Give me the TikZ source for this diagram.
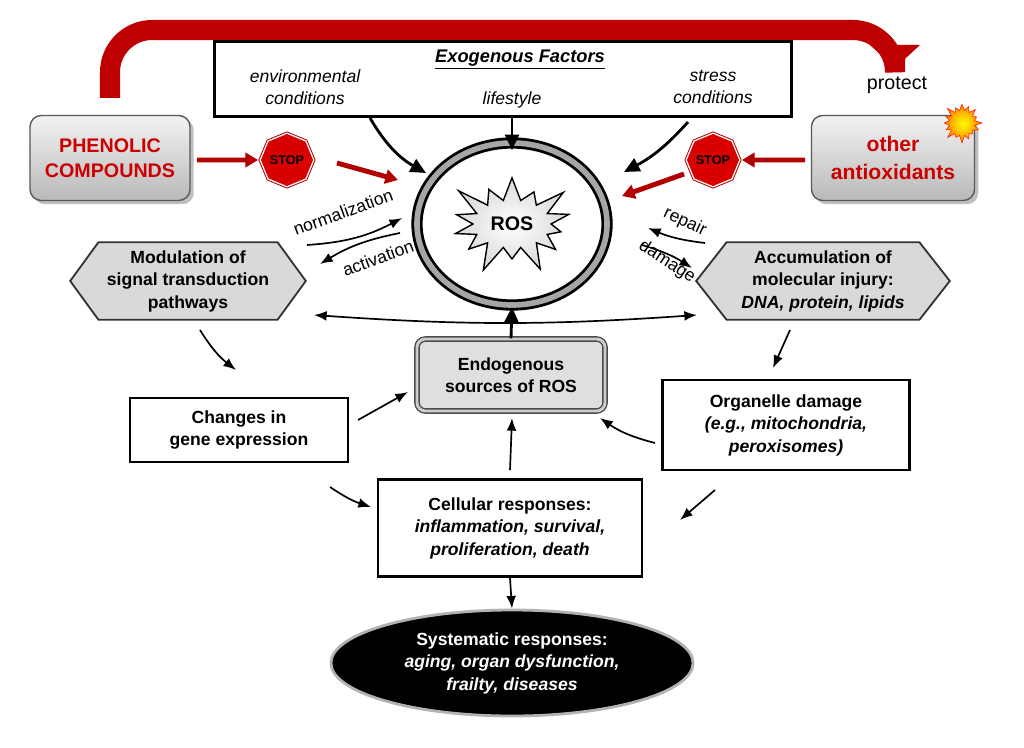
\documentclass[tikz,border=0pt]{standalone}
\usepackage{fontspec}
\setmainfont{Liberation Sans}
\usetikzlibrary{shapes.geometric,shapes.symbols,arrows.meta,shadows,calc}
\begin{document}
\begin{tikzpicture}[x=0.025cm,y=-0.025cm,
  txt/.style={font=\fontsize{12.5}{16}\selectfont\bfseries,align=center},
  box/.style={draw,line width=1.6pt,fill=white,txt,inner sep=0pt},
  arr/.style={-{Latex[length=9pt,width=7pt]},line width=1.2pt},
  big/.style={-{Triangle[length=11pt,width=10pt]},line width=2pt},
  red/.style={-{Triangle[length=9pt,width=10pt]},line width=3.5pt,draw=red!70!black},
  gbox/.style={rounded corners=8pt,draw=gray!70!black,line width=1pt,top color=gray!10,bottom color=gray!55,drop shadow},
  stop/.style={regular polygon,regular polygon sides=8,fill=red!85!black,draw=white,line width=1pt,double=red!70!black,font=\fontsize{9}{9}\selectfont\bfseries,text=black,inner sep=0pt,shape border rotate=22.5}
]
\useasboundingbox (0,0) rectangle (1024,748);
% top red arrow
\draw[draw=red!75!black,line width=0.5cm,rounded corners=30pt] (110,98) -- (110,30) -- (895,30) -- (895,48);
\fill[red!75!black] (870,45) -- (920,45) -- (895,68) -- cycle;
\node[font=\fontsize{14}{14}\selectfont] (prot) at (897,85) {protect};
% Exogenous
\node[box,minimum width=14.425cm,minimum height=1.875cm,anchor=north west,line width=2pt] (exo) at (213,40) {};
\node[font=\fontsize{13}{13}\selectfont\bfseries\itshape] (exot) at (520,60) {\underline{Exogenous Factors}};
\node[font=\fontsize{12.5}{16}\selectfont\itshape,align=center] (env) at (305,87) {environmental\\conditions};
\node[font=\fontsize{12.5}{16}\selectfont\itshape] (life) at (512,100) {lifestyle};
\node[font=\fontsize{12.5}{16}\selectfont\itshape,align=center] (stress) at (713,87) {stress\\conditions};
% phenolic / antioxidants
\node[gbox,minimum width=4cm,minimum height=2.125cm,font=\fontsize{14}{18}\selectfont\bfseries,text=red!80!black,align=center] (phen) at (110,158) {PHENOLIC\\COMPOUNDS};
\node[gbox,minimum width=4.075cm,minimum height=2.125cm,font=\fontsize{15}{20}\selectfont\bfseries,text=red!80!black,align=center] (anti) at (893,158) {other\\antioxidants};
\node[starburst,starburst points=16,starburst point height=6pt,draw=red!80!orange,inner sep=5pt,shading=radial,inner color=yellow,outer color=orange,minimum size=30pt] (sun) at (962,123) {};
\node[stop,minimum size=40pt] (stopL) at (287,160) {STOP};
\node[stop,minimum size=40pt] (stopR) at (713,160) {STOP};
% ROS
\node[ellipse,draw=black,line width=2pt,double=gray!70,double distance=4pt,fill=white,minimum width=4.75cm,minimum height=4.05cm] (ros) at (512,224) {};
\node[starburst,starburst points=14,starburst point height=22pt,draw,line width=1pt,inner color=white,outer color=gray!30,shading=radial,minimum width=3.5cm,minimum height=2.75cm,font=\fontsize{14}{14}\selectfont\bfseries] (rost) at (512,224) {ROS};
% hexagons
\node[txt,minimum width=5.875cm,minimum height=1.925cm] (mod) at (188,281) {};
\node[txt,minimum width=6.325cm,minimum height=1.925cm] (acc) at (823,281) {};
\foreach \n in {mod,acc}{
 \fill[gray!70,xshift=3pt,yshift=-3pt] (\n.west) -- ($(\n.north west)!0.12!(\n.north east)$) -- ($(\n.north east)!0.12!(\n.north west)$) -- (\n.east) -- ($(\n.south east)!0.12!(\n.south west)$) -- ($(\n.south west)!0.12!(\n.south east)$) -- cycle;
 \filldraw[fill=gray!30,draw=black!80,line width=1.3pt] (\n.west) -- ($(\n.north west)!0.12!(\n.north east)$) -- ($(\n.north east)!0.12!(\n.north west)$) -- (\n.east) -- ($(\n.south east)!0.12!(\n.south west)$) -- ($(\n.south west)!0.12!(\n.south east)$) -- cycle;}
\node[txt] (modt) at (mod) {Modulation of\\signal transduction\\pathways};
\node[txt] (acct) at (acc) {Accumulation of\\molecular injury:\\\textit{DNA, protein, lipids}};
% middle boxes
\node[txt,draw=gray!60!black,line width=1pt,double=gray!40,double distance=2pt,rounded corners=6pt,fill=gray!25,minimum width=4.7cm,minimum height=1.8cm] (endo) at (511,375) {Endogenous\\sources of ROS};
\node[box,minimum width=5.45cm,minimum height=1.6cm] (chg) at (239,430) {Changes in\\gene expression};
\node[box,minimum width=6.175cm,minimum height=2.25cm] (org) at (786,425) {Organelle damage\\\textit{(e.g., mitochondria,}\\\textit{peroxisomes)}};
\node[box,minimum width=6.6cm,minimum height=2.425cm,line width=2pt] (cell) at (510,528) {Cellular responses:\\\textit{inflammation, survival,}\\\textit{proliferation, death}};
\node[ellipse,fill=black,draw=gray!60,line width=2pt,text=white,txt,minimum width=9.05cm,minimum height=2.65cm,inner sep=0pt] (sys) at (512,663) {Systematic responses:\\\textit{aging, organ dysfunction,}\\\textit{frailty, diseases}};
% arrows
\draw[big] (370,118) to[bend right=15] (426,173);
\draw[big] (512,118) -- (512,150);
\draw[big] (688,122) to[bend left=10] (624,172);
\draw[red] (197,160) -- (stopL.west);
\draw[red] (337,163) -- (398,180);
\draw[red] (805,160) -- (stopR.east);
\draw[red] (684,174) -- (622,196);
\draw[arr] (307,245) to[bend right=12] (402,218);
\draw[arr] (400,233) to[bend right=10] (320,264);
\node[rotate=20,font=\fontsize{12.5}{13}\selectfont] (norm) at (343,212) {normalization};
\node[rotate=20,font=\fontsize{12.5}{13}\selectfont] (act) at (378,258) {activation};
\draw[arr] (705,243) to[bend left=8] (648,228);
\draw[arr] (642,245) to[bend left=8] (692,268);
\node[rotate=-25,font=\fontsize{12.5}{13}\selectfont] (rep) at (685,222) {repair};
\node[rotate=-33,font=\fontsize{12.5}{13}\selectfont] (dam) at (667,262) {damage};
\draw[{Latex[length=9pt,width=7pt]}-{Latex[length=9pt,width=7pt]},line width=1.2pt] (314,315) to[bend right=4] (697,315);
\draw[big] (endo.north) -- (512,307);
\draw[arr] (200,330) to[bend right=10] (236,370);
\draw[arr] (358,420) -- (408,392);
\draw[arr] (790,330) -- (773,368);
\draw[arr] (655,443) to[bend left=10] (600,418);
\draw[arr] (cell.north) ++(0,-8) -- (512,418);
\draw[arr] (330,487) to[bend right=8] (371,507);
\draw[arr] (715,490) -- (680,520);
\draw[arr] (cell.south) -- (sys.north);
\end{tikzpicture}
\end{document}
